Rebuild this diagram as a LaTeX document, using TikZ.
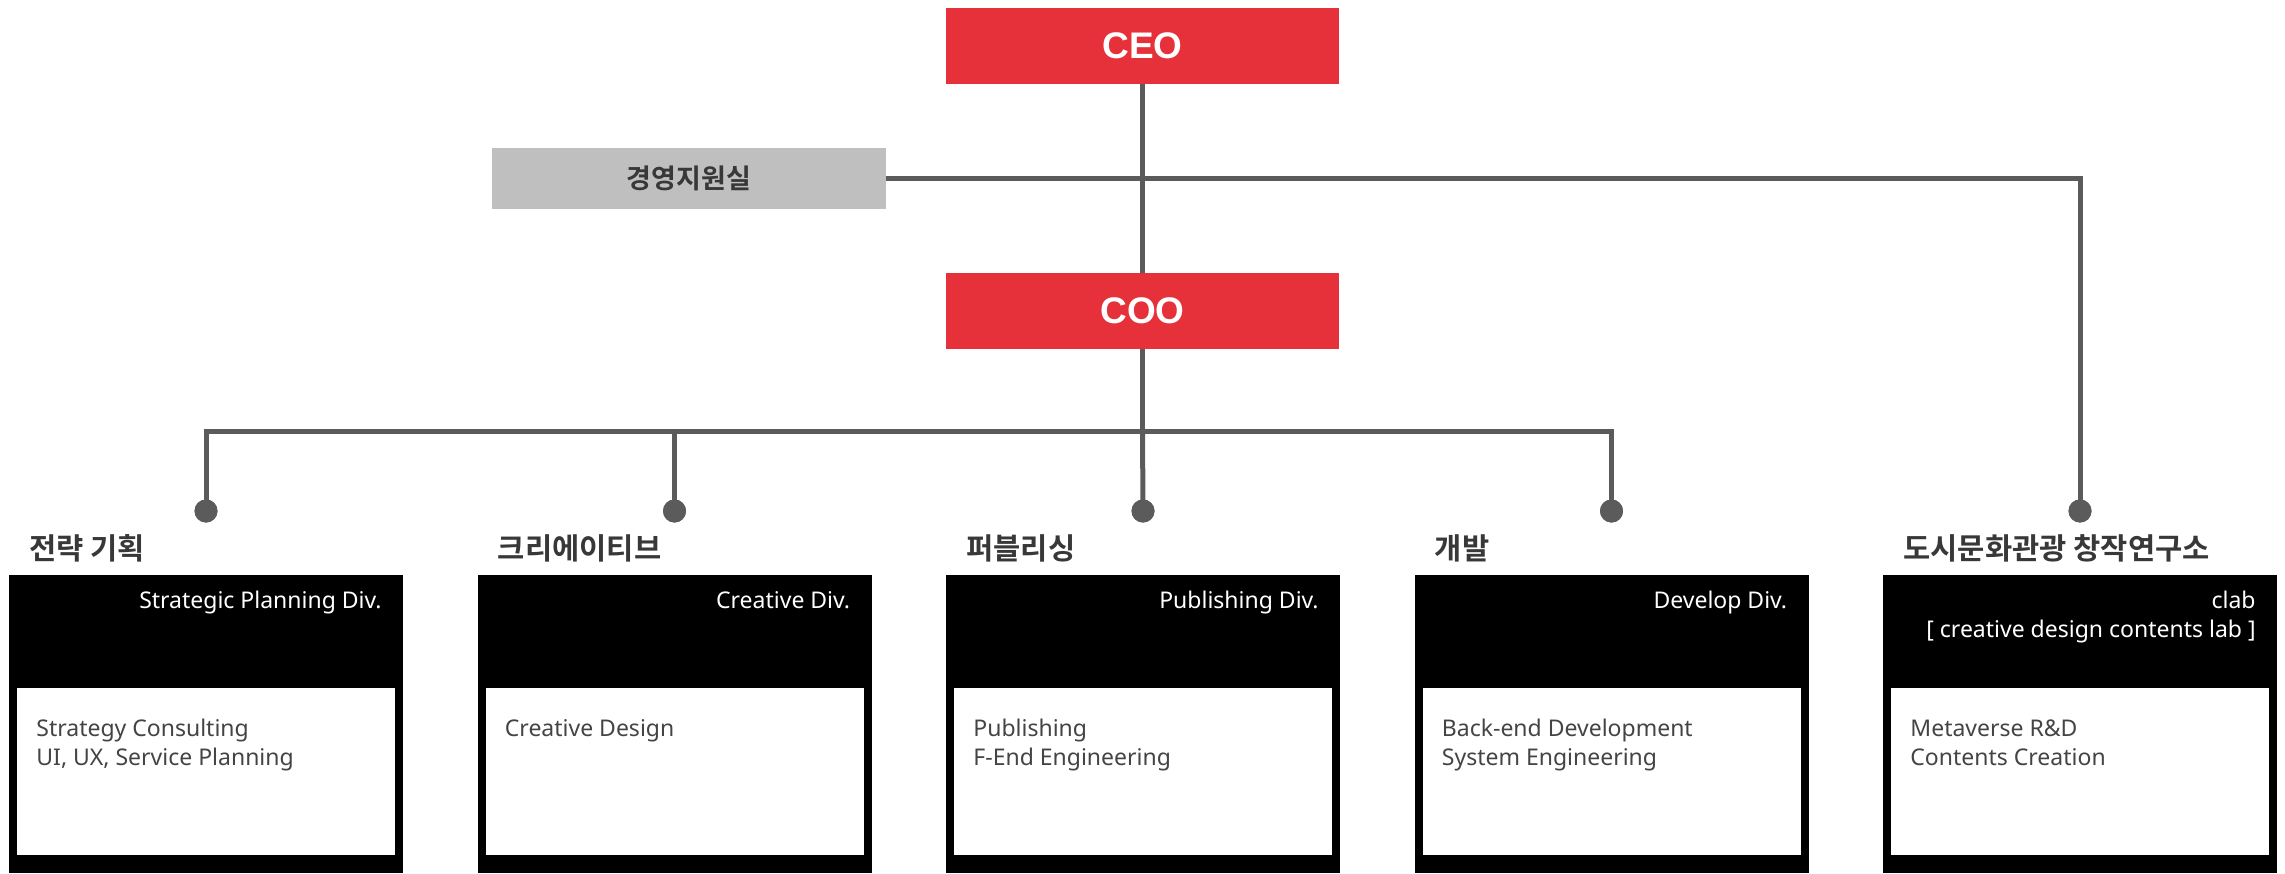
\documentclass[tikz,border=0pt]{standalone}
\usepackage{fontspec}
\setmainfont{Noto Sans}
\newfontfamily\latb{Liberation Sans}
\newfontfamily\krb{Noto Sans CJK KR Bold}
\definecolor{cred}{HTML}{E6313A}
\definecolor{cgray}{HTML}{BFBFBF}
\definecolor{cline}{HTML}{5B5B5B}
\definecolor{ctitle}{HTML}{383838}
\definecolor{cbody}{HTML}{444444}
\begin{document}
\begin{tikzpicture}[x=0.5pt,y=-0.5pt,
  redbox/.style={fill=cred, minimum width=196.5pt, minimum height=38pt, inner sep=0pt, text=white, font=\latb\bfseries\fontsize{18.5}{20}\selectfont},
  graybox/.style={fill=cgray, minimum width=197pt, minimum height=30.5pt, inner sep=0pt, text=ctitle, font=\krb\fontsize{13.5}{14}\selectfont},
  divbox/.style={fill=black, minimum width=197pt, minimum height=149pt, inner sep=0pt},
  innerbox/.style={fill=white, minimum width=189pt, minimum height=83.5pt, inner sep=0pt},
  dot/.style={circle, fill=cline, minimum size=11.5pt, inner sep=0pt},
  conn/.style={draw=cline, line width=2.5pt},
  divtitle/.style={anchor=base west, inner sep=0pt, text=ctitle, font=\krb\fontsize{14.8}{15}\selectfont},
  divname/.style={anchor=base east, inner sep=0pt, text=white, align=right, font=\fontsize{11.5}{14.5}\selectfont},
  divbody/.style={anchor=base west, inner sep=0pt, text=cbody, align=left, font=\fontsize{11.5}{14.5}\selectfont}
]
\useasboundingbox (0,0) rectangle (2285,873);
\fill[white] (0,0) rectangle (2285,873);

% top level
\node[redbox] (ceo) at (1142.5,46) {CEO};
\node[redbox] (coo) at (1142.5,311) {COO};
\node[graybox] (gm) at (689,178.5) {경영지원실};

% division boxes
\foreach \i/\L in {1/9, 2/477.5, 3/946, 4/1414.5, 5/1883} {
  \node[divbox] (b\i) at (\L+197,724) {};
  \node[innerbox] (w\i) at (\L+197,771.5) {};
  \node[dot] (d\i) at (\L+197,511) {};
}

% titles
\node[divtitle] (t1) at (29,559) {전략 기획};
\node[divtitle] (t2) at (497.5,559) {크리에이티브};
\node[divtitle] (t3) at (966,559) {퍼블리싱};
\node[divtitle] (t4) at (1434.5,559) {개발};
\node[divtitle] (t5) at (1903,559) {도시문화관광 창작연구소};

% division names (base = baseline of last line)
\node[divname] (n1) at (382,608) {Strategic Planning Div.};
\node[divname] (n2) at (850.5,608) {Creative Div.};
\node[divname] (n3) at (1319,608) {Publishing Div.};
\node[divname] (n4) at (1787.5,608) {Develop Div.};
\node[divname] (n5) at (2256,637) {clab\\{[} creative design contents lab ]};

% bodies
\node[divbody] (c1) at (36,765) {Strategy Consulting\\UI, UX, Service Planning};
\node[divbody] (c2) at (504.5,736) {Creative Design};
\node[divbody] (c3) at (973,765) {Publishing\\F-End Engineering};
\node[divbody] (c4) at (1441.5,765) {Back-end Development\\System Engineering};
\node[divbody] (c5) at (1910,765) {Metaverse R\&D\\Contents Creation};

% connectors
\coordinate (bus) at (1142.5,431.5);
\draw[conn] (ceo.south) -- (coo.north);
\draw[conn] (gm.east) -| (d5.center);
\draw[conn] (coo.south) -- (bus);
\draw[conn] (d1.center) |- (bus) -| (d4.center);
\draw[conn] (d2.center) |- (bus);
\draw[conn] (bus) -- (d3.center);
\foreach \i in {1,...,5} { \node[dot] at (d\i) {}; }
\end{tikzpicture}
\end{document}
